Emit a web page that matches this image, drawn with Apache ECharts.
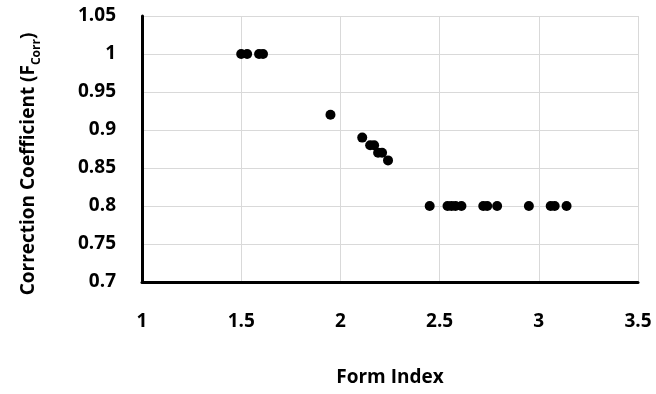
<!DOCTYPE html>
<html>
<head>
<meta charset="utf-8">
<script src="https://cdn.jsdelivr.net/npm/echarts@6/dist/echarts.min.js"></script>
<style>html,body{margin:0;padding:0;background:#fff}#c{width:656px;height:394px}</style>
</head>
<body>
<div id="c"></div>
<script>
const formIndex = [1.50, 1.53, 1.59, 1.61, 1.95, 2.11, 2.15, 2.17, 2.19, 2.21, 2.24, 2.45, 2.54, 2.56, 2.58, 2.61, 2.72, 2.74, 2.79, 2.95, 3.06, 3.08, 3.14];
const fCorr = [1.00, 1.00, 1.00, 1.00, 0.92, 0.89, 0.88, 0.88, 0.87, 0.87, 0.86, 0.80, 0.80, 0.80, 0.80, 0.80, 0.80, 0.80, 0.80, 0.80, 0.80, 0.80, 0.80];
const xTicks = {min: 1, max: 3.5, interval: 0.5};
const yTicks = {min: 0.7, max: 1.05, interval: 0.05};

const points = formIndex.map((x, i) => [x, fCorr[i]]);
const font = '"Open Sans", "Liberation Sans", sans-serif';
const chart = echarts.init(document.getElementById('c'));
chart.setOption({
  animation: false,
  backgroundColor: '#fff',
  grid: {left: 142, top: 16, right: 18, bottom: 112},
  xAxis: {
    type: 'value', min: xTicks.min, max: xTicks.max, interval: xTicks.interval,
    axisLine: {show: true, lineStyle: {color: '#000', width: 3}},
    axisTick: {show: false},
    splitLine: {show: true, lineStyle: {color: '#d9d9d9', width: 1}},
    axisLabel: {color: '#000', fontFamily: font, fontWeight: 'bold', fontSize: 19, margin: 30},
    name: 'Form Index', nameLocation: 'middle', nameGap: 86,
    nameTextStyle: {color: '#000', fontFamily: font, fontWeight: 'bold', fontSize: 19}
  },
  yAxis: {
    type: 'value', min: yTicks.min, max: yTicks.max, interval: yTicks.interval,
    axisLine: {show: true, lineStyle: {color: '#000', width: 3}},
    axisTick: {show: false},
    splitLine: {show: true, lineStyle: {color: '#d9d9d9', width: 1}},
    axisLabel: {color: '#000', fontFamily: font, fontWeight: 'bold', fontSize: 19, margin: 26,
      formatter: v => String(parseFloat(v.toFixed(2)))},
    name: '{a|Correction Coefficient (F}{s|Corr}{a|)}', nameLocation: 'middle', nameGap: 104,
    nameTextStyle: {
      padding: [0, 30, 0, 0],
      rich: {
        a: {color: '#000', fontFamily: font, fontWeight: 'bold', fontSize: 19, verticalAlign: 'bottom', lineHeight: 24},
        s: {color: '#000', fontFamily: font, fontWeight: 'bold', fontSize: 12, verticalAlign: 'bottom', lineHeight: 16, padding: [0, 0, -5, 0]}
      }
    }
  },
  series: [{
    type: 'scatter', data: points, symbol: 'circle', symbolSize: 10,
    itemStyle: {color: '#000', opacity: 1}
  }]
});
</script>
</body>
</html>
